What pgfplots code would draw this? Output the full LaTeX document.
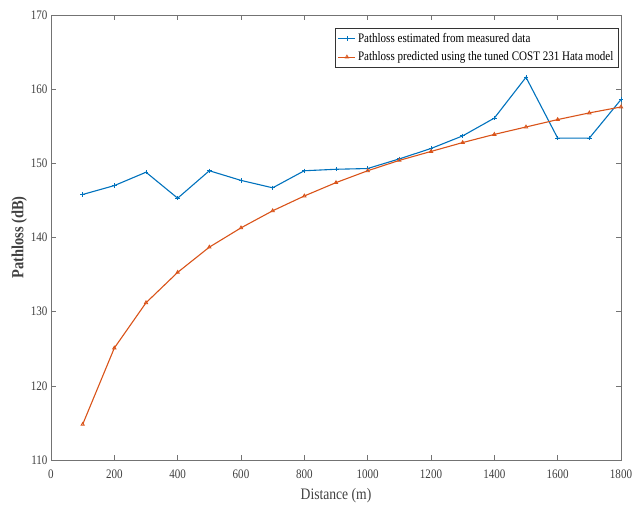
\documentclass[border=0pt]{standalone}
\usepackage{fontspec}
\setmainfont{Liberation Serif}[FakeStretch=0.85]
\usepackage{pgfplots}
\pgfplotsset{compat=1.18}
\definecolor{mblue}{rgb}{0,0.447,0.741}
\definecolor{morange}{rgb}{0.85,0.325,0.098}
\definecolor{axgray}{gray}{0.45}
\definecolor{txtgray}{gray}{0.25}
\begin{document}
\begin{tikzpicture}[x=1pt,y=1pt]
\begin{axis}[
  at={(51pt,51pt)}, anchor=south west,
  scale only axis, width=570pt, height=445pt,
  xmin=0, xmax=1800, ymin=110, ymax=170,
  xtick={0,200,...,1800}, ytick={110,120,...,170},
  /pgf/number format/assume math mode=true,
  /pgf/number format/set thousands separator={},
  tick label style={font=\fontsize{13}{14}\selectfont, text=txtgray},
  xticklabel style={yshift=-6pt},
  axis line style={axgray, line width=0.7pt},
  major tick style={axgray, line width=0.6pt},
  major tick length=5pt,
  tick align=inside,
  xlabel={Distance (m)},
  ylabel={\bfseries Pathloss (dB)},
  xlabel style={font=\fontsize{16}{17}\selectfont, text=txtgray, yshift=-3pt},
  ylabel style={font=\fontsize{17}{18}\selectfont, text=txtgray, yshift=-3pt},
  legend style={at={(rel axis cs:0.995,0.97)}, anchor=north east,
    font=\fontsize{13}{15}\selectfont, draw=black!80, line width=0.6pt,
    inner sep=2.5pt, row sep=4pt, cells={anchor=west}},
  legend cell align=left,
]
\addplot[mblue, line width=1.1pt, mark=+, mark size=2.2pt, mark options={line width=0.8pt}]
  coordinates {
  (100,145.8) (200,147.0) (300,148.8) (400,145.3) (500,149.0) (600,147.7)
  (700,146.7) (800,149.0) (900,149.2) (1000,149.3) (1100,150.6) (1200,152.0)
  (1300,153.7) (1400,156.1) (1500,161.6) (1600,153.4) (1700,153.4) (1800,158.6)};
\addlegendentry{Pathloss estimated from measured data}
\addplot[morange, line width=1.1pt, mark=triangle, mark size=1.9pt, mark options={line width=0.8pt}]
  coordinates {
  (100,114.8) (200,125.1) (300,131.2) (400,135.3) (500,138.7) (600,141.3)
  (700,143.6) (800,145.6) (900,147.4) (1000,149.0) (1100,150.4) (1200,151.6)
  (1300,152.8) (1400,153.9) (1500,154.9) (1600,155.9) (1700,156.8) (1800,157.6)};
\addlegendentry{Pathloss predicted using the tuned COST 231 Hata model}
\end{axis}
\path (0,0) rectangle (641pt,511pt);
\end{tikzpicture}
\end{document}
